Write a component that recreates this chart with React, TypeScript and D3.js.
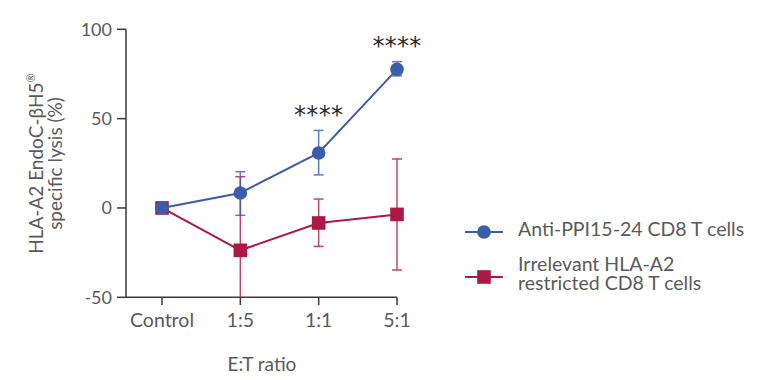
import React from "react";
import * as d3 from "d3";

const categories = ["Control", "1:5", "1:1", "5:1"];
const antiMean = [0, 8.4, 30.8, 77.6];
const antiHi = [0, 20.3, 43.4, 81.9];
const antiLo = [0, -4.1, 18.5, 73.9];
const irrMean = [0, -23.7, -8.4, -3.6];
const irrHi = [0, 17.5, 5.0, 27.4];
const irrLo = [0, -50, -21.5, -34.7];
const yTicks = [-50, 0, 50, 100];
const stars = [
  { cat: "1:1", y: 43.4 },
  { cat: "5:1", y: 81.9 },
];

const BLUE = "#3b5ca8";
const RED = "#ae1844";
const TXT = "#5a5a5a";
const FONT = "Lato, 'Open Sans', sans-serif";

export default function App() {
  const x = d3.scalePoint<string>().domain(categories).range([162, 397]);
  const y = d3.scaleLinear().domain([-50, 100]).range([297.3, 29.3]);
  const line = d3
    .line<number>()
    .x((_, i) => x(categories[i]) as number)
    .y((d) => y(d));

  const series = [
    { mean: irrMean, hi: irrHi, lo: irrLo, color: RED, shape: "square" },
    { mean: antiMean, hi: antiHi, lo: antiLo, color: BLUE, shape: "circle" },
  ];

  return (
    <svg
      width={758}
      height={380}
      style={{ position: "absolute", left: 0, top: 0, background: "#fff" }}
      fontFamily={FONT}
    >
      {/* axes */}
      <line x1={126} x2={126} y1={y(100)} y2={y(-50)} stroke="#3a3a3a" strokeWidth={1.5} />
      <line x1={126} x2={397} y1={y(-50)} y2={y(-50)} stroke="#3a3a3a" strokeWidth={1.5} />
      {yTicks.map((t) => (
        <g key={t}>
          <line x1={117} x2={126} y1={y(t)} y2={y(t)} stroke="#3a3a3a" strokeWidth={1.5} />
          <text x={112} y={y(t)} dy="0.36em" textAnchor="end" fontSize={18} fill={TXT}>
            {t}
          </text>
        </g>
      ))}
      {categories.map((c) => (
        <g key={c}>
          <line x1={x(c)} x2={x(c)} y1={y(-50)} y2={305} stroke="#3a3a3a" strokeWidth={1.5} />
          <text x={x(c)} y={327} textAnchor="middle" fontSize={19.5} fill={TXT}>
            {c}
          </text>
        </g>
      ))}
      <text x={262} y={371} textAnchor="middle" fontSize={19} fill={TXT}>
        E:T ratio
      </text>
      <g transform="translate(43,163.5) rotate(-90)">
        <text x={0} y={0} textAnchor="middle" fontSize={19} fill={TXT}>
          HLA-A2 EndoC-βH5
          <tspan fontSize={11} dy={-8}>®</tspan>
        </text>
        <text x={0} y={18.5} textAnchor="middle" fontSize={19} fill={TXT}>
          specific lysis (%)
        </text>
      </g>

      {/* series */}
      {series.map((s, si) => (
        <g key={si}>
          <path d={line(s.mean) as string} fill="none" stroke={s.color} strokeWidth={2} />
          {s.mean.map((m, i) => {
            const cx = x(categories[i]) as number;
            if (s.hi[i] === s.lo[i]) return null;
            return (
              <g key={i} stroke={s.color} strokeWidth={1.5} opacity={0.8}>
                <line x1={cx} x2={cx} y1={y(s.hi[i])} y2={y(s.lo[i])} />
                <line x1={cx - 5} x2={cx + 5} y1={y(s.hi[i])} y2={y(s.hi[i])} />
                {s.lo[i] > -50 && (
                  <line x1={cx - 5} x2={cx + 5} y1={y(s.lo[i])} y2={y(s.lo[i])} />
                )}
              </g>
            );
          })}
          {s.mean.map((m, i) => {
            const cx = x(categories[i]) as number;
            return s.shape === "circle" ? (
              <circle key={i} cx={cx} cy={y(m)} r={6.8} fill={s.color} />
            ) : (
              <rect key={i} x={cx - 6.8} y={y(m) - 6.8} width={13.6} height={13.6} fill={s.color} />
            );
          })}
        </g>
      ))}

      {stars.map((s) => (
        <text
          key={s.cat}
          x={x(s.cat)}
          y={y(s.y) - 7.5}
          textAnchor="middle"
          fontSize={24}
          fill="#2a2a2a"
          letterSpacing={0.3}
          fontFamily="'DejaVu Sans', sans-serif"
        >
          ****
        </text>
      ))}

      {/* legend */}
      <line x1={465} x2={503} y1={232} y2={232} stroke={BLUE} strokeWidth={2} />
      <circle cx={484} cy={232} r={6.8} fill={BLUE} />
      <text x={518} y={236} fontSize={19.5} fill={TXT}>
        Anti-PPI15-24 CD8 T cells
      </text>
      <line x1={465} x2={503} y1={277} y2={277} stroke={RED} strokeWidth={2} />
      <rect x={484 - 6.8} y={277 - 6.8} width={13.6} height={13.6} fill={RED} />
      <text x={518} y={271} fontSize={19.5} fill={TXT}>
        Irrelevant HLA-A2
      </text>
      <text x={518} y={290} fontSize={19.5} fill={TXT}>
        restricted CD8 T cells
      </text>
    </svg>
  );
}
